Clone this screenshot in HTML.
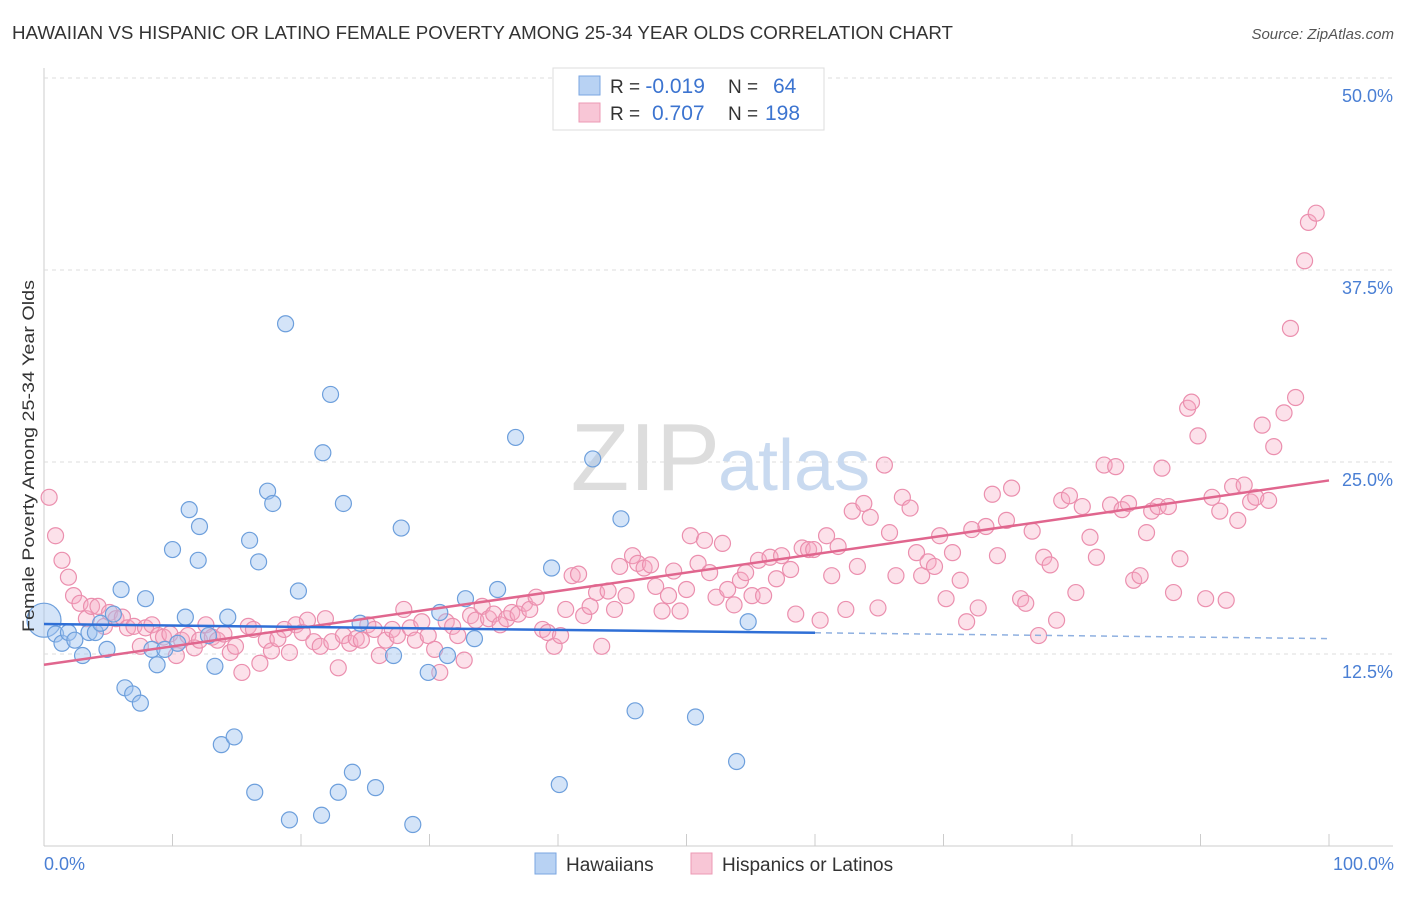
<!DOCTYPE html>
<html><head><meta charset="utf-8"><style>
body{margin:0;background:#fff;font-family:"Liberation Sans",sans-serif;}
svg text{font-family:"Liberation Sans",sans-serif;}
</style></head><body>
<svg id="chart" width="1406" height="892" xmlns="http://www.w3.org/2000/svg">
<text x="12" y="39" font-size="18" fill="#333" textLength="941" lengthAdjust="spacingAndGlyphs">HAWAIIAN VS HISPANIC OR LATINO FEMALE POVERTY AMONG 25-34 YEAR OLDS CORRELATION CHART</text>
<text x="1394" y="39" font-size="15" fill="#555" font-style="italic" text-anchor="end">Source: ZipAtlas.com</text>
<g id="grid"></g>
<text x="720" y="490" font-size="96" fill="#ddd" text-anchor="end" font-family="Liberation Serif">ZIP</text>
<text x="718" y="490" font-size="72" fill="#c9daf0">atlas</text>
<g id="pink"></g><g id="blue"></g><g id="trends"></g>
<text transform="translate(34,456) rotate(-90)" font-size="17" fill="#333" text-anchor="middle" textLength="352" lengthAdjust="spacingAndGlyphs">Female Poverty Among 25-34 Year Olds</text>
<text x="44" y="870" font-size="18" fill="#4a7fd4">0.0%</text>
<text x="1394" y="870" font-size="18" fill="#4a7fd4" text-anchor="end">100.0%</text>
<g>
<rect x="553" y="68" width="271" height="62" fill="#fff" stroke="#ddd"/>
<rect x="579" y="76" width="21" height="19" fill="#b8d2f3" stroke="#7aa6e0"/>
<rect x="579" y="103" width="21" height="19" fill="#f8c6d6" stroke="#ec9ab4"/>
<text x="610" y="93" font-size="19" fill="#333">R = <tspan font-size="21" fill="#3c74d0">-0.019</tspan><tspan x="728">N = </tspan><tspan x="773" font-size="21" fill="#3c74d0">64</tspan></text>
<text x="610" y="120" font-size="19" fill="#333">R = <tspan x="652" font-size="21" fill="#3c74d0">0.707</tspan><tspan x="728">N = </tspan><tspan x="765" font-size="21" fill="#3c74d0">198</tspan></text>
</g>
<g>
<rect x="535" y="853" width="21" height="21" fill="#b8d2f3" stroke="#7aa6e0"/>
<text x="566" y="871" font-size="19" fill="#333">Hawaiians</text>
<rect x="691" y="853" width="21" height="21" fill="#f8c6d6" stroke="#ec9ab4"/>
<text x="722" y="871" font-size="19" fill="#333">Hispanics or Latinos</text>
</g>
</svg>
<script>
const yTicks=[12.5,25,37.5,50];
const yTickLabels=["12.5%","25.0%","37.5%","50.0%"];
const xTicks=[10,20,30,40,50,60,70,80,90,100];
const blueX=[0,0.9,1.4,1.9,2.4,3.0,3.5,4.0,4.4,4.9,5.4,6.0,6.3,6.9,7.5,7.9,8.4,8.8,9.4,10.0,10.4,11.0,11.3,12.0,12.1,12.8,13.3,13.8,14.3,14.8,16.0,16.4,16.7,17.4,17.8,18.8,19.1,19.8,21.6,21.7,22.3,22.9,23.3,24.0,24.6,25.8,27.2,27.8,28.7,29.9,30.8,31.4,32.8,33.5,35.3,36.7,39.5,40.1,42.7,44.9,46.0,50.7,53.9,54.8];
const blueY=[14.7,13.8,13.2,13.9,13.4,12.4,13.9,13.9,14.5,12.8,15.1,16.7,10.3,9.9,9.3,16.1,12.8,11.8,12.8,19.3,13.2,14.9,21.9,18.6,20.8,13.7,11.7,6.6,14.9,7.1,19.9,3.5,18.5,23.1,22.3,34.0,1.7,16.6,2.0,25.6,29.4,3.5,22.3,4.8,14.5,3.8,12.4,20.7,1.4,11.3,15.2,12.4,16.1,13.5,16.7,26.6,18.1,4.0,25.2,21.3,8.8,8.4,5.5,14.6];
const pinkX=[0.4,0.9,1.4,1.9,2.3,2.8,3.3,3.7,4.2,4.7,5.1,5.6,6.1,6.5,7.0,7.5,7.9,8.4,8.9,9.3,9.8,10.3,10.7,11.2,11.7,12.1,12.6,13.1,13.5,14.0,14.5,14.9,15.4,15.9,16.3,16.8,17.3,17.7,18.2,18.7,19.1,19.6,20.1,20.5,21.0,21.5,21.9,22.4,22.9,23.3,23.8,24.3,24.7,25.2,25.7,26.1,26.6,27.1,27.5,28.0,28.5,28.9,29.4,29.9,30.4,30.8,31.3,31.8,32.2,32.7,33.2,33.6,34.1,34.6,35.0,35.5,36.0,36.4,36.9,37.4,37.8,38.3,38.8,39.2,39.7,40.2,40.6,41.1,41.6,42.0,42.5,43.0,43.4,43.9,44.4,44.8,45.3,45.8,46.2,46.7,47.2,47.6,48.1,48.6,49.0,49.5,50.0,50.3,50.9,51.4,51.8,52.3,52.8,53.2,53.7,54.2,54.6,55.1,55.6,56.0,56.5,57.0,57.4,58.1,58.5,59.0,59.5,59.9,60.4,60.9,61.3,61.8,62.4,62.9,63.3,63.8,64.3,64.9,65.4,65.8,66.3,66.8,67.4,67.9,68.3,68.8,69.3,69.7,70.2,70.7,71.3,71.8,72.2,72.7,73.3,73.8,74.2,74.9,75.3,76.0,76.4,76.9,77.4,77.8,78.3,78.8,79.2,79.8,80.3,80.8,81.4,81.9,82.5,83.0,83.4,83.9,84.4,84.8,85.3,85.8,86.2,86.7,87.0,87.5,87.9,88.4,89.0,89.3,89.8,90.4,90.9,91.5,92.0,92.5,92.9,93.4,93.9,94.3,94.8,95.3,95.7,96.5,97.0,97.4,98.1,98.4,99.0];
const pinkY=[22.7,20.2,18.6,17.5,16.3,15.8,14.8,15.6,15.6,14.3,15.2,14.8,14.9,14.2,14.3,13.0,14.2,14.4,13.7,13.6,13.8,12.4,13.4,13.7,12.9,13.4,14.4,13.6,13.4,13.8,12.6,13.0,11.3,14.3,14.1,11.9,13.4,12.7,13.5,14.1,12.6,14.4,13.9,14.7,13.3,13.0,14.8,13.3,11.6,13.7,13.2,13.5,13.4,14.4,14.1,12.4,13.4,14.1,13.7,15.4,14.2,13.4,14.6,13.7,12.8,11.3,14.6,14.3,13.7,12.1,15.0,14.7,15.6,14.8,15.1,14.4,14.8,15.2,15.1,15.8,15.4,16.2,14.1,13.9,13.0,13.7,15.4,17.6,17.7,15.0,15.6,16.5,13.0,16.6,15.4,18.2,16.3,18.9,18.4,18.1,18.3,16.9,15.3,16.3,17.9,15.3,16.7,20.2,18.4,19.9,17.8,16.2,19.7,16.7,15.7,17.3,17.8,16.3,18.6,16.3,18.8,17.4,18.9,18.0,15.1,19.4,19.3,19.3,14.7,20.2,17.6,19.5,15.4,21.8,18.2,22.3,21.4,15.5,24.8,20.4,17.6,22.7,22.0,19.1,17.6,18.5,18.2,20.2,16.1,19.1,17.3,14.6,20.6,15.5,20.8,22.9,18.9,21.2,23.3,16.1,15.8,20.5,13.7,18.8,18.3,14.7,22.5,22.8,16.5,22.1,20.1,18.8,24.8,22.2,24.7,21.9,22.3,17.3,17.6,20.4,21.8,22.1,24.6,22.1,16.5,18.7,28.5,28.9,26.7,16.1,22.7,21.8,16.0,23.4,21.2,23.5,22.4,22.7,27.4,22.5,26.0,28.2,33.7,29.2,38.1,40.6,41.2];
const blueTrend=[14.45,13.5];
const pinkTrend=[11.8,23.8];
const NS='http://www.w3.org/2000/svg';
function sx(v){return 44+v*12.85;}
function sy(v){return 846-v*15.36;}
function mk(tag,attrs,parent){const e=document.createElementNS(NS,tag);for(const k in attrs)e.setAttribute(k,attrs[k]);parent.appendChild(e);return e;}
const grid=document.getElementById('grid');
mk('line',{x1:44,y1:68,x2:44,y2:846,stroke:'#ccc'},grid);
mk('line',{x1:44,y1:846,x2:1393,y2:846,stroke:'#ccc'},grid);
yTicks.forEach((t,i)=>{
 const l=mk('line',{x1:44,y1:sy(t),x2:1393,y2:sy(t),stroke:'#ddd','stroke-dasharray':'4,4'},grid);
 
 
 const tx=mk('text',{x:1393,y:sy(t)+24,'font-size':18,fill:'#4a7fd4','text-anchor':'end'},grid);
 tx.textContent=yTickLabels[i];
 
 
});
xTicks.forEach(t=>{
 const l=mk('line',{x1:sx(t),y1:834,x2:sx(t),y2:846,stroke:'#ccc'},grid);
 
 
});
const pg=document.getElementById('pink');
pinkX.forEach((x,i)=>{
 const c=mk('circle',{cx:sx(x),cy:sy(pinkY[i]),r:8,fill:'rgba(245,170,196,0.35)',stroke:'#eb8fae','stroke-width':1.2},pg);
 
 
});
const bg=document.getElementById('blue');
blueX.forEach((x,i)=>{
 const c=mk('circle',{cx:sx(x),cy:sy(blueY[i]),r:(i===0?17:8),fill:'rgba(160,195,240,0.45)',stroke:'#6d9fdc','stroke-width':1.2},bg);
 
 
});
const tg=document.getElementById('trends');
function ty(tr,x){return tr[0]+(tr[1]-tr[0])*x/100;}
const pl=mk('line',{x1:sx(0),y1:sy(ty(pinkTrend,0)),x2:sx(100),y2:sy(ty(pinkTrend,100)),stroke:'#e0668e','stroke-width':2.5},tg);


const bl=mk('line',{x1:sx(0),y1:sy(ty(blueTrend,0)),x2:sx(60),y2:sy(ty(blueTrend,60)),stroke:'#2f6fd6','stroke-width':2.5},tg);


const bd=mk('line',{x1:sx(60),y1:sy(ty(blueTrend,60)),x2:sx(100),y2:sy(ty(blueTrend,100)),stroke:'#8fb0e0','stroke-width':1.5,'stroke-dasharray':'6,5'},tg);


</script>
</body></html>
